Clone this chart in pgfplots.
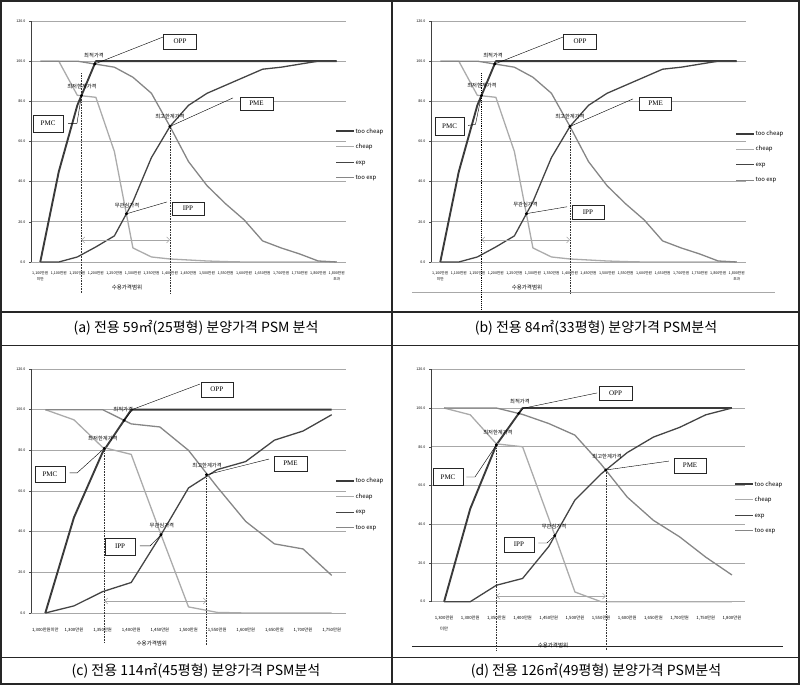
\documentclass[border=0pt]{standalone}
\usepackage{pgfplots}
\pgfplotsset{compat=1.18}
\usepackage{pgfplotstable}
\usepackage{fontspec}
\setmainfont{Noto Sans CJK KR}
\newfontfamily\serifbox{Liberation Serif}
\usetikzlibrary{arrows.meta}

\definecolor{gridgray}{HTML}{A8A8A8}
\definecolor{cTooCheap}{HTML}{3A3A3A}
\definecolor{cCheap}{HTML}{ABABAB}
\definecolor{cExp}{HTML}{444444}
\definecolor{cTooExp}{HTML}{868686}

% (a) 59m2
\pgfplotstableread{
idx toocheap cheap exp tooexp
0   0    100  0    100
1   45   100  0    100
2   78   83   2.5  100
3   100  82   7.5  98.5
4   100  55   13   97
5   100  7    30   92
6   100  2.5  52   84
7   100  1.5  67.5 67.5
8   100  1    78   50
9   100  0.5  84   38
10  100  0.2  88   29
11  100  0    92   21
12  100  0    96   10.5
13  100  0    97   7
14  100  0    98.5 4
15  100  0    100  0.5
16  100  0    100  0
}\tabA

% (b) 84m2
\pgfplotstableread{
idx toocheap cheap exp tooexp
0   0    100  0    100
1   45   100  0    100
2   78   83   2.5  100
3   100  82   7.5  98.5
4   100  55   13   97
5   100  7    30   92
6   100  2.5  52   84
7   100  1.5  67.5 67.5
8   100  1    78   50
9   100  0.5  84   38
10  100  0.2  88   29
11  100  0    92   21
12  100  0    96   10.5
13  100  0    97   7
14  100  0    98.5 4
15  100  0    100  0.5
16  100  0    100  0
}\tabB

% (c) 114m2
\pgfplotstableread{
idx toocheap cheap exp tooexp
0   0    100  0    100
1   47   95   3.5  100
2   79   81.5 10.5 100
3   100  78   15   93
4   100  40   37.5 91.5
5   100  3    61.5 80
6   100  0.3  70.5 62
7   100  0    74.5 45
8   100  0    85   34
9   100  0    89.5 31.5
10  100  0    97.5 18.5
}\tabC

% (d) 126m2
\pgfplotstableread{
idx toocheap cheap exp tooexp
0   0    100  0    100
1   48   96.5 0    100
2   81   81.5 8.5  100
3   100  80   12   96.7
4   100  43   28.5 92
5   100  5    52.5 86
6   100  0    66   71
7   100  0    77   54
8   100  0    85   42
9   100  0    90   33.5
10  100  0    96.5 23
11  100  0    100  13.8
}\tabD

\pgfplotsset{
  psm/.style={
    scale only axis, anchor=south west, clip=false,
    ymin=0, ymax=120, ytick={0,20,...,120},
    yticklabels={0.0,20.0,40.0,60.0,80.0,100.0,120.0},
    axis lines*=left,
    ymajorgrids, grid style={gridgray, line width=0.8pt},
    y axis line style={black!75, line width=0.6pt},
    x axis line style={gridgray, line width=0.8pt},
    tick align=outside, major tick length=2pt,
    ytick style={black!70, line width=0.4pt},
    xtick style={draw=none},
    yticklabel style={font=\fontsize{3.6}{4}\selectfont},
    xticklabel style={align=center},
    legend style={draw=none, fill=none, inner sep=0pt, row sep=9pt,
      font=\fontsize{6}{7}\selectfont, anchor=west,
      nodes={inner sep=0.5pt, text height=4.5pt, text depth=1pt}},
    legend cell align=left,
    legend image code/.code={\draw[##1] (0pt,0pt) -- (18pt,0pt);},
    every axis plot/.append style={line join=round, no markers},
  },
  tc/.style={cTooCheap, line width=1.9pt},
  ch/.style={cCheap, line width=1.3pt},
  ex/.style={cExp, line width=1.3pt},
  te/.style={cTooExp, line width=1.3pt},
}
\tikzset{
  box/.style={draw=black!85, fill=white, line width=0.5pt,
    font=\serifbox\fontsize{7}{8}\selectfont, inner sep=0pt,
    minimum width=33pt, minimum height=15pt},
  ptlab/.style={font=\fontsize{5.3}{6}\selectfont, inner sep=0pt},
  leader/.style={black, line width=0.4pt},
  vline/.style={black!80, densely dotted, line width=0.6pt},
  rng/.style={gray!70, line width=0.5pt, {Straight Barb[length=3pt]}-{Straight Barb[length=3pt]}},
  xlab/.style={font=\fontsize{5.5}{6}\selectfont, inner sep=0pt},
}

\begin{document}
\begin{tikzpicture}[x=1pt,y=1pt]
\useasboundingbox (0,0) rectangle (800,685);

% ---------- (a) ----------
\begin{axis}[psm, at={(31pt,423pt)}, width=315pt, height=241pt,
  xmin=-0.5, xmax=16.5, xtick={0,...,16},
  xticklabels={{1,100만원\\[2pt]미만},{1,100만원},{1,150만원},{1,200만원},{1,250만원},{1,300만원},{1,350만원},{1,400만원},{1,450만원},{1,500만원},{1,550만원},{1,600만원},{1,650만원},{1,700만원},{1,750만원},{1,800만원},{1,800만원\\[2pt]초과}},
  xticklabel style={font=\fontsize{3.7}{4.4}\selectfont, yshift=-4pt},
  legend style={at={(0.965,0.446)}}]
\addplot[tc] table[x=idx,y=toocheap]{\tabA}; \addlegendentry{too cheap}
\addplot[ch] table[x=idx,y=cheap]{\tabA}; \addlegendentry{cheap}
\addplot[ex] table[x=idx,y=exp]{\tabA}; \addlegendentry{exp}
\addplot[te] table[x=idx,y=tooexp]{\tabA}; \addlegendentry{too exp}
\draw[vline] (axis cs:2.22,94) -- (axis cs:2.22,-15.4);
\draw[vline] (axis cs:7,67.5) -- (axis cs:7,-15.4);
\draw[rng] (axis cs:2.22,11) -- (axis cs:7,11);
\draw[leader] (axis cs:2.94,98.6) -- (axis cs:6.62,112);
\draw[leader] (axis cs:1.5,69) -- (axis cs:1.98,69) -- (axis cs:2.22,82.8);
\draw[leader] (axis cs:7,67.5) -- (axis cs:10.4,81.7);
\draw[leader] (axis cs:4.65,24) -- (axis cs:6.84,29.9);
\addplot[only marks, mark=square*, mark size=1.3pt, black, forget plot] coordinates {(2.22,82.8) (2.94,98.6) (4.65,24) (7,67.5)};
\node[box] at (axis cs:7.54,109.8) {OPP};
\node[box, minimum width=30pt, minimum height=17pt] at (axis cs:0.42,69) {PMC};
\node[box, minimum height=13pt] at (axis cs:11.67,78.9) {PME};
\node[box, minimum width=32pt, minimum height=13pt] at (axis cs:7.97,26.6) {IPP};
\node[ptlab] at (axis cs:2.9,102.6) {최적가격};
\node[ptlab] at (axis cs:2.25,87.6) {최저한계가격};
\node[ptlab] at (axis cs:7.0,72.2) {최고한계가격};
\node[ptlab] at (axis cs:4.68,27.9) {무관심가격};
\node[xlab] at (axis cs:4.68,-12.9) {수용가격범위};
\end{axis}

% ---------- (b) ----------
\begin{axis}[psm, at={(431pt,423pt)}, width=315pt, height=241pt,
  xmin=-0.5, xmax=16.5, xtick={0,...,16},
  xticklabels={{1,100만원\\[2pt]미만},{1,100만원},{1,150만원},{1,200만원},{1,250만원},{1,300만원},{1,350만원},{1,400만원},{1,450만원},{1,500만원},{1,550만원},{1,600만원},{1,650만원},{1,700만원},{1,750만원},{1,800만원},{1,800만원\\[2pt]초과}},
  xticklabel style={font=\fontsize{3.7}{4.4}\selectfont, yshift=-4pt},
  legend style={at={(0.965,0.436)}}]
\addplot[tc] table[x=idx,y=toocheap]{\tabB}; \addlegendentry{too cheap}
\addplot[ch] table[x=idx,y=cheap]{\tabB}; \addlegendentry{cheap}
\addplot[ex] table[x=idx,y=exp]{\tabB}; \addlegendentry{exp}
\addplot[te] table[x=idx,y=tooexp]{\tabB}; \addlegendentry{too exp}
\draw[gridgray, line width=0.8pt] (axis cs:-1.53,-14.9) -- (axis cs:18.06,-14.9);
\draw[vline, line width=0.9pt, black] (axis cs:2.22,94) -- (axis cs:2.22,-23.9);
\draw[vline] (axis cs:7,67.5) -- (axis cs:7,-15.4);
\draw[rng] (axis cs:2.22,11) -- (axis cs:7,11);
\draw[leader] (axis cs:2.94,98.6) -- (axis cs:6.62,112);
\draw[leader] (axis cs:1.5,68) -- (axis cs:1.9,68.5) -- (axis cs:2.22,82.8);
\draw[leader] (axis cs:7,67.5) -- (axis cs:10.4,81.2);
\draw[leader] (axis cs:4.6,24) -- (axis cs:6.84,27.5);
\addplot[only marks, mark=square*, mark size=1.3pt, black, forget plot] coordinates {(2.22,82.8) (2.94,98.6) (4.65,24) (7,67.5)};
\node[box] at (axis cs:7.54,109.8) {OPP};
\node[box, minimum width=29pt, minimum height=18pt] at (axis cs:0.5,67.7) {PMC};
\node[box, minimum width=32pt, minimum height=13pt] at (axis cs:11.62,78.9) {PME};
\node[box, minimum width=32pt, minimum height=14pt] at (axis cs:7.97,24.7) {IPP};
\node[ptlab] at (axis cs:2.85,102.6) {최적가격};
\node[ptlab] at (axis cs:2.25,88) {최저한계가격};
\node[ptlab] at (axis cs:7.0,72.5) {최고한계가격};
\node[ptlab] at (axis cs:4.6,28.5) {무관심가격};
\node[xlab] at (axis cs:4.68,-12.9) {수용가격범위};
\end{axis}

% ---------- (c) ----------
\begin{axis}[psm, at={(31pt,72pt)}, width=315pt, height=244pt,
  xmin=-0.5, xmax=10.5, xtick={0,...,10},
  xticklabels={{1,300만원미만},{1,300만원},{1,350만원},{1,400만원},{1,450만원},{1,500만원},{1,550만원},{1,600만원},{1,650만원},{1,700만원},{1,750만원}},
  xticklabel style={font=\fontsize{4.3}{5}\selectfont, yshift=-9pt},
  legend style={at={(0.965,0.445)}}]
\addplot[tc] table[x=idx,y=toocheap]{\tabC}; \addlegendentry{too cheap}
\addplot[ch] table[x=idx,y=cheap]{\tabC}; \addlegendentry{cheap}
\addplot[ex] table[x=idx,y=exp]{\tabC}; \addlegendentry{exp}
\addplot[te] table[x=idx,y=tooexp]{\tabC}; \addlegendentry{too exp}
\draw[vline] (axis cs:2.06,81) -- (axis cs:2.06,-14.8);
\draw[vline] (axis cs:5.63,68) -- (axis cs:5.63,-15.7);
\draw[rng] (axis cs:2.06,5.9) -- (axis cs:5.63,5.9);
\draw[leader] (axis cs:2.75,94.75) -- (axis cs:3.06,100.2) -- (axis cs:5.4,112.6);
\draw[leader] (axis cs:0.85,68.9) -- (axis cs:1.11,68.9) -- (axis cs:2.06,81);
\draw[leader] (axis cs:5.63,68) -- (axis cs:7.81,75.7);
\draw[leader] (axis cs:3.3,33) -- (axis cs:3.66,33) -- (axis cs:4.04,38.5);
\addplot[only marks, mark=square*, mark size=1.3pt, black, forget plot] coordinates {(2.06,81) (2.75,94.75) (4.04,38.5) (5.63,68)};
\node[box, minimum width=32pt] at (axis cs:5.99,109.9) {OPP};
\node[box, minimum width=30pt, minimum height=16pt] at (axis cs:0.16,68.4) {PMC};
\node[box, minimum width=33pt] at (axis cs:8.56,73.5) {PME};
\node[box, minimum width=30pt, minimum height=17pt] at (axis cs:2.61,32.7) {IPP};
\node[ptlab] at (axis cs:2.72,100.3) {최적가격};
\node[ptlab] at (axis cs:2.01,85.6) {최저한계가격};
\node[ptlab] at (axis cs:5.65,72.3) {최고한계가격};
\node[ptlab] at (axis cs:4.07,42.8) {무관심가격};
\node[xlab] at (axis cs:3.72,-14.8) {수용가격범위};
\end{axis}

% ---------- (d) ----------
\begin{axis}[psm, at={(431pt,83.3pt)}, width=314pt, height=232.4pt,
  xmin=-0.5, xmax=11.5, xtick={0,...,11},
  xticklabels={{1,300만원\\[6pt]미만},{1,300만원},{1,350만원},{1,400만원},{1,450만원},{1,500만원},{1,550만원},{1,600만원},{1,650만원},{1,700만원},{1,750만원},{1,800만원}},
  xticklabel style={font=\fontsize{4.3}{5}\selectfont, yshift=-9pt},
  legend style={at={(0.965,0.405)}}]
\addplot[tc] table[x=idx,y=toocheap]{\tabD}; \addlegendentry{too cheap}
\addplot[ch] table[x=idx,y=cheap]{\tabD}; \addlegendentry{cheap}
\addplot[ex] table[x=idx,y=exp]{\tabD}; \addlegendentry{exp}
\addplot[te] table[x=idx,y=tooexp]{\tabD}; \addlegendentry{too exp}
\draw[black!85, line width=0.8pt] (axis cs:-1.23,-23.2) -- (axis cs:12.95,-23.2);
\draw[vline] (axis cs:2.0,81) -- (axis cs:2.0,-24.9);
\draw[vline] (axis cs:6.18,68) -- (axis cs:6.18,-24.9);
\draw[rng] (axis cs:2.0,2.9) -- (axis cs:6.18,2.9);
\draw[leader] (axis cs:2.85,97.2) -- (axis cs:3.03,99.9) -- (axis cs:5.85,107.8);
\draw[leader] (axis cs:0.85,64.4) -- (axis cs:1.18,64.4) -- (axis cs:2.0,81);
\draw[leader] (axis cs:6.18,68) -- (axis cs:8.59,72.6);
\draw[leader] (axis cs:3.6,30.3) -- (axis cs:3.93,30.3) -- (axis cs:4.23,34.1);
\addplot[only marks, mark=square*, mark size=1.3pt, black, forget plot] coordinates {(2.0,81) (2.85,97.2) (4.23,34.1) (6.18,68)};
\node[box, minimum height=14pt] at (axis cs:6.55,107.8) {OPP};
\node[box, minimum width=30pt, minimum height=17pt] at (axis cs:0.15,64.4) {PMC};
\node[box, minimum width=32pt] at (axis cs:9.4,70.3) {PME};
\node[box, minimum width=30pt] at (axis cs:2.86,29.5) {IPP};
\node[ptlab] at (axis cs:2.9,103.6) {최적가격};
\node[ptlab] at (axis cs:2.06,87.1) {최저한계가격};
\node[ptlab] at (axis cs:6.23,75.2) {최고한계가격};
\node[ptlab] at (axis cs:4.2,38.6) {무관심가격};
\node[xlab] at (axis cs:4.16,-22.4) {수용가격범위};
\end{axis}

% ---------- frame and captions ----------
\draw[black!85, line width=1.6pt] (1,1) rectangle (799,684);
\draw[black!85, line width=1.6pt] (392,1) -- (392,684);
\draw[black!85, line width=1.6pt] (1,373) -- (799,373);
\draw[black!85, line width=1.6pt] (1,339.5) -- (799,339.5);
\draw[black!85, line width=1.6pt] (1,27.5) -- (799,27.5);
\node[font=\fontsize{14}{16}\selectfont, inner sep=0pt] at (196,357) {(a) 전용 59㎡(25평형) 분양가격 PSM 분석};
\node[font=\fontsize{14}{16}\selectfont, inner sep=0pt] at (596,357) {(b) 전용 84㎡(33평형) 분양가격 PSM분석};
\node[font=\fontsize{14}{16}\selectfont, inner sep=0pt] at (196,14) {(c) 전용 114㎡(45평형) 분양가격 PSM분석};
\node[font=\fontsize{14}{16}\selectfont, inner sep=0pt] at (596,14) {(d) 전용 126㎡(49평형) 분양가격 PSM분석};
\end{tikzpicture}
\end{document}
